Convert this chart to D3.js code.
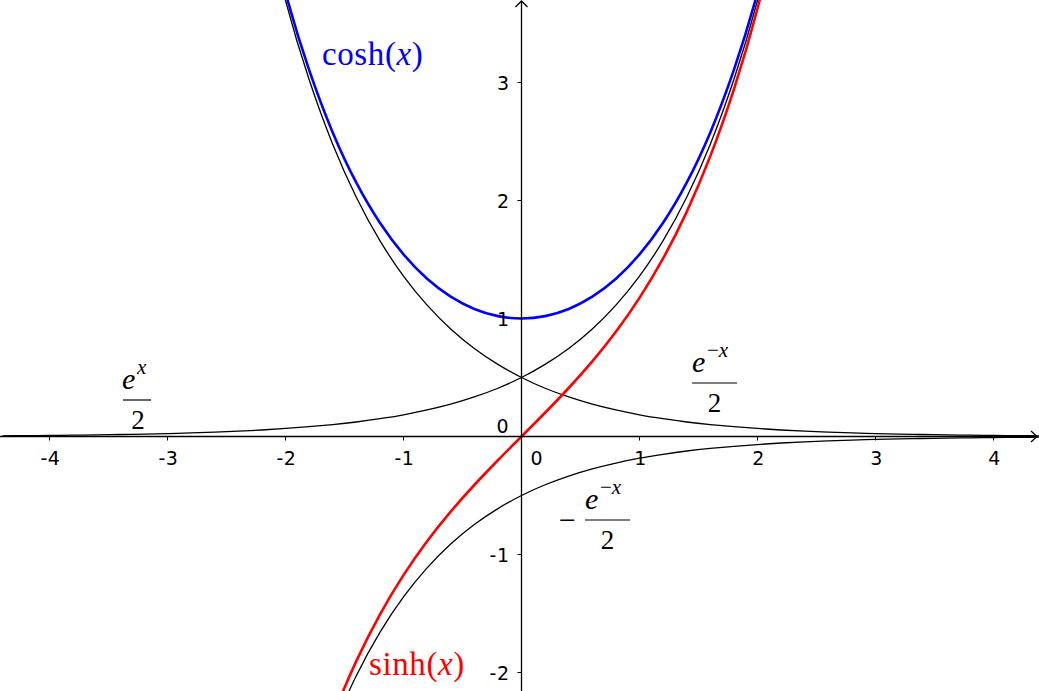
<!DOCTYPE html>
<html>
<head>
<meta charset="utf-8">
<script src="https://cdn.jsdelivr.net/npm/d3@7"></script>
<style>
html,body{margin:0;padding:0;background:#fff;}
svg{display:block;}
</style>
</head>
<body>
<svg id="chart" width="1039" height="691"></svg>
<script>
// ---- data ----
const xTicks = [-4, -3, -2, -1, 1, 2, 3, 4];
const yTicks = [-2, -1, 1, 2, 3];
const xTickLabels = ["-4", "-3", "-2", "-1", "1", "2", "3", "4"];
const yTickLabels = ["-2", "-1", "1", "2", "3"];

const xsWide = [-4.4,-4.2,-4.0,-3.8,-3.6,-3.4,-3.2,-3.0,-2.8,-2.6,-2.4,-2.2,-2.0,-1.8,-1.6,-1.4,-1.2,-1.0,-0.8,-0.6,-0.4,-0.2,0,0.2,0.4,0.6,0.8,1.0,1.2,1.4,1.6,1.8,2.0,2.2];
const expHalf = [0.006,0.0075,0.009,0.011,0.014,0.017,0.020,0.025,0.030,0.037,0.045,0.055,0.068,0.083,0.101,0.123,0.151,0.184,0.225,0.274,0.335,0.409,0.5,0.611,0.746,0.911,1.113,1.359,1.660,2.028,2.477,3.025,3.695,4.513];

const xsNegWide = [-2.2,-2.0,-1.8,-1.6,-1.4,-1.2,-1.0,-0.8,-0.6,-0.4,-0.2,0,0.2,0.4,0.6,0.8,1.0,1.2,1.4,1.6,1.8,2.0,2.2,2.4,2.6,2.8,3.0,3.2,3.4,3.6,3.8,4.0,4.2,4.4];
const expNegHalf = [4.513,3.695,3.025,2.477,2.028,1.660,1.359,1.113,0.911,0.746,0.611,0.5,0.409,0.335,0.274,0.225,0.184,0.151,0.123,0.101,0.083,0.068,0.055,0.045,0.037,0.030,0.025,0.020,0.017,0.014,0.011,0.009,0.0075,0.006];
const minusExpNegHalf = [-4.513,-3.695,-3.025,-2.477,-2.028,-1.660,-1.359,-1.113,-0.911,-0.746,-0.611,-0.5,-0.409,-0.335,-0.274,-0.225,-0.184,-0.151,-0.123,-0.101,-0.083,-0.068,-0.055,-0.045,-0.037,-0.030,-0.025,-0.020,-0.017,-0.014,-0.011,-0.009,-0.0075,-0.006];

const xsMid = [-2.2,-2.0,-1.8,-1.6,-1.4,-1.2,-1.0,-0.8,-0.6,-0.4,-0.2,0,0.2,0.4,0.6,0.8,1.0,1.2,1.4,1.6,1.8,2.0,2.2];
const coshVals = [4.568,3.762,3.107,2.577,2.151,1.811,1.543,1.337,1.185,1.081,1.020,1,1.020,1.081,1.185,1.337,1.543,1.811,2.151,2.577,3.107,3.762,4.568];
const sinhVals = [-4.457,-3.627,-2.942,-2.376,-1.904,-1.509,-1.175,-0.888,-0.637,-0.411,-0.201,0,0.201,0.411,0.637,0.888,1.175,1.509,1.904,2.376,2.942,3.627,4.457];

// ---- layout ----
const W = 1039, H = 691;
const unit = 118, ox = 521.5, oy = 436.5;
const x = d3.scaleLinear().domain([(0 - ox) / unit, (W - ox) / unit]).range([0, W]);
const y = d3.scaleLinear().domain([(oy - H) / unit, oy / unit]).range([H, 0]);

const svg = d3.select("#chart");
svg.append("defs").append("clipPath").attr("id", "clip")
  .append("rect").attr("x", 0).attr("y", 0).attr("width", W).attr("height", H);

const line = d3.line().x(d => x(d[0])).y(d => y(d[1])).curve(d3.curveNatural);
const g = svg.append("g").attr("clip-path", "url(#clip)");

// axes
const axisColor = "#000";
const X0 = x(0), Y0 = y(0);
svg.append("line").attr("x1", 0).attr("x2", W - 2).attr("y1", Y0).attr("y2", Y0)
  .attr("stroke", axisColor).attr("stroke-width", 1.3);
svg.append("line").attr("x1", X0).attr("x2", X0).attr("y1", H).attr("y2", 1)
  .attr("stroke", axisColor).attr("stroke-width", 1.3);
svg.append("path").attr("d", `M${W-8},${Y0-5.5}L${W-2},${Y0}L${W-8},${Y0+5.5}`)
  .attr("fill", "none").attr("stroke", axisColor).attr("stroke-width", 1.3);
svg.append("path").attr("d", `M${X0-6},${7}L${X0},${1}L${X0+6},${7}`)
  .attr("fill", "none").attr("stroke", axisColor).attr("stroke-width", 1.3);

// ticks
svg.selectAll(".xt").data(xTicks).enter().append("line")
  .attr("x1", d => x(d)).attr("x2", d => x(d)).attr("y1", Y0).attr("y2", Y0 + 4)
  .attr("stroke", axisColor).attr("stroke-width", 1);
svg.selectAll(".yt").data(yTicks).enter().append("line")
  .attr("x1", X0 - 4).attr("x2", X0).attr("y1", d => y(d)).attr("y2", d => y(d))
  .attr("stroke", axisColor).attr("stroke-width", 1);

const tickFont = "'DejaVu Sans', sans-serif";
const tfs = 19;
svg.selectAll(".xl").data(xTicks).enter().append("text")
  .attr("x", d => x(d) + 1).attr("y", Y0 + 28)
  .attr("text-anchor", "middle").attr("font-family", tickFont).attr("font-size", tfs)
  .attr("letter-spacing", 0.5)
  .text((d, i) => xTickLabels[i]);
svg.append("text").attr("x", X0 + 15).attr("y", Y0 + 28)
  .attr("text-anchor", "middle").attr("font-family", tickFont).attr("font-size", tfs).text("0");
svg.selectAll(".yl").data(yTicks).enter().append("text")
  .attr("x", X0 - 12).attr("y", d => y(d) + 7)
  .attr("text-anchor", "end").attr("font-family", tickFont).attr("font-size", tfs)
  .attr("letter-spacing", 0.5)
  .text((d, i) => yTickLabels[i]);
svg.append("text").attr("x", X0 - 13).attr("y", Y0 - 3.5)
  .attr("text-anchor", "end").attr("font-family", tickFont).attr("font-size", tfs).text("0");

// curves
const zip = (a, b) => a.map((v, i) => [v, b[i]]);
g.append("path").attr("d", line(zip(xsWide, expHalf))).attr("fill", "none").attr("stroke", "#000").attr("stroke-width", 1.3);
g.append("path").attr("d", line(zip(xsNegWide, expNegHalf))).attr("fill", "none").attr("stroke", "#000").attr("stroke-width", 1.3);
g.append("path").attr("d", line(zip(xsNegWide, minusExpNegHalf))).attr("fill", "none").attr("stroke", "#000").attr("stroke-width", 1.3);
g.append("path").attr("d", line(zip(xsMid, sinhVals))).attr("fill", "none").attr("stroke", "#ff0000").attr("stroke-width", 2.6);
g.append("path").attr("d", line(zip(xsMid, coshVals))).attr("fill", "none").attr("stroke", "#0000ff").attr("stroke-width", 2.6);

// math labels
const mf = "'Liberation Serif', 'Times New Roman', serif";
function fnLabel(px, py, name, color) {
  const t = svg.append("text").attr("x", px).attr("y", py).attr("font-family", mf)
    .attr("font-size", 33).attr("letter-spacing", 0.6).attr("fill", color);
  t.append("tspan").text(name + "(");
  t.append("tspan").attr("font-style", "italic").text("x");
  t.append("tspan").text(")");
}
fnLabel(322, 65, "cosh", "#0000ff");
fnLabel(369, 675, "sinh", "#ff0000");

function frac(cx, barY, barW, neg, lead) {
  const eX = cx - barW / 2 + (neg ? 0 : -1);
  const t = svg.append("text").attr("x", eX).attr("y", barY - 11).attr("font-family", mf).attr("font-size", 30);
  t.append("tspan").attr("font-style", "italic").text("e");
  const s = svg.append("text").attr("x", eX + 15).attr("y", barY - 26).attr("font-family", mf).attr("font-size", 21);
  if (neg) { s.append("tspan").text("\u2212"); }
  s.append("tspan").attr("font-style", "italic").text("x");
  svg.append("line").attr("x1", cx - barW / 2).attr("x2", cx + barW / 2).attr("y1", barY).attr("y2", barY)
    .attr("stroke", "#000").attr("stroke-width", 1.2);
  svg.append("text").attr("x", cx + (neg ? 0 : 1)).attr("y", barY + 29).attr("text-anchor", "middle")
    .attr("font-family", mf).attr("font-size", 27).text("2");
  if (lead) {
    svg.append("text").attr("x", cx - barW / 2 - 9).attr("y", barY + 10).attr("text-anchor", "end")
      .attr("font-family", mf).attr("font-size", 30).text("\u2212");
  }
}
frac(137, 400, 28, false, false);
frac(714.5, 383, 45, true, false);
frac(607.5, 520, 45, true, true);
</script>
</body>
</html>
